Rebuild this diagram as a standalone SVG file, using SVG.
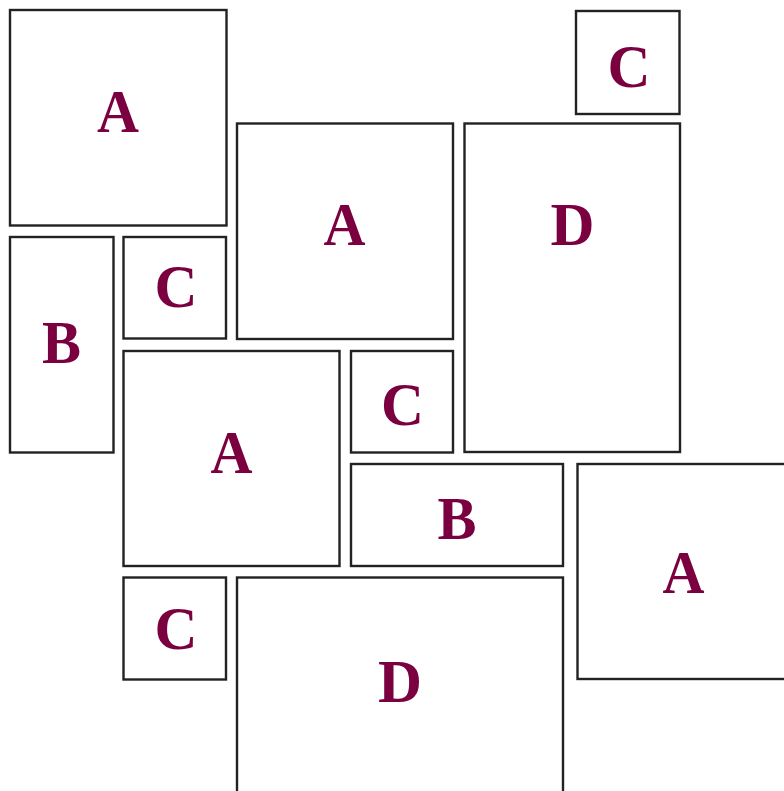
<svg xmlns="http://www.w3.org/2000/svg" width="784" height="791" viewBox="0 0 784 791">
<style>
  rect.box { fill: #ffffff; stroke: #222222; stroke-width: 2.4; }
  text.lbl { font-family: "Liberation Serif", "DejaVu Serif", serif; font-weight: bold; font-size: 62px; fill: #7a0040; text-anchor: middle; }
</style>
<rect x="0" y="0" width="784" height="791" fill="#ffffff"/>
<g id="connectors"></g>
<g id="node-a1"><rect class="box" x="10" y="10" width="216.5" height="215.5"/><text class="lbl" x="118" y="132" textLength="42" lengthAdjust="spacingAndGlyphs">A</text></g>
<g id="node-c1"><rect class="box" x="576" y="11" width="103.5" height="103"/><text class="lbl" x="629" y="87" textLength="43" lengthAdjust="spacingAndGlyphs">C</text></g>
<g id="node-a2"><rect class="box" x="237" y="123.5" width="216" height="215.5"/><text class="lbl" x="344.5" y="245" textLength="42" lengthAdjust="spacingAndGlyphs">A</text></g>
<g id="node-d1"><rect class="box" x="464.5" y="123.5" width="215.5" height="328.5"/><text class="lbl" x="572.5" y="245" textLength="44" lengthAdjust="spacingAndGlyphs">D</text></g>
<g id="node-b1"><rect class="box" x="10" y="237" width="103.5" height="215.5"/><text class="lbl" x="61.5" y="363" textLength="39" lengthAdjust="spacingAndGlyphs">B</text></g>
<g id="node-c2"><rect class="box" x="123.5" y="237" width="102.5" height="101.5"/><text class="lbl" x="176" y="307" textLength="43" lengthAdjust="spacingAndGlyphs">C</text></g>
<g id="node-a3"><rect class="box" x="123.5" y="351" width="216" height="215"/><text class="lbl" x="231.5" y="473" textLength="42" lengthAdjust="spacingAndGlyphs">A</text></g>
<g id="node-c3"><rect class="box" x="351" y="351" width="102" height="101.5"/><text class="lbl" x="402.5" y="425" textLength="43" lengthAdjust="spacingAndGlyphs">C</text></g>
<g id="node-b2"><rect class="box" x="351" y="464" width="212" height="102"/><text class="lbl" x="457" y="539" textLength="39" lengthAdjust="spacingAndGlyphs">B</text></g>
<g id="node-a4"><rect class="box" x="577.5" y="464" width="220" height="215"/><text class="lbl" x="683.5" y="593" textLength="42" lengthAdjust="spacingAndGlyphs">A</text></g>
<g id="node-c4"><rect class="box" x="123.5" y="577.5" width="102.5" height="102"/><text class="lbl" x="176" y="649" textLength="43" lengthAdjust="spacingAndGlyphs">C</text></g>
<g id="node-d2"><rect class="box" x="237" y="577.5" width="326" height="230"/><text class="lbl" x="400" y="702" textLength="44" lengthAdjust="spacingAndGlyphs">D</text></g>
</svg>
